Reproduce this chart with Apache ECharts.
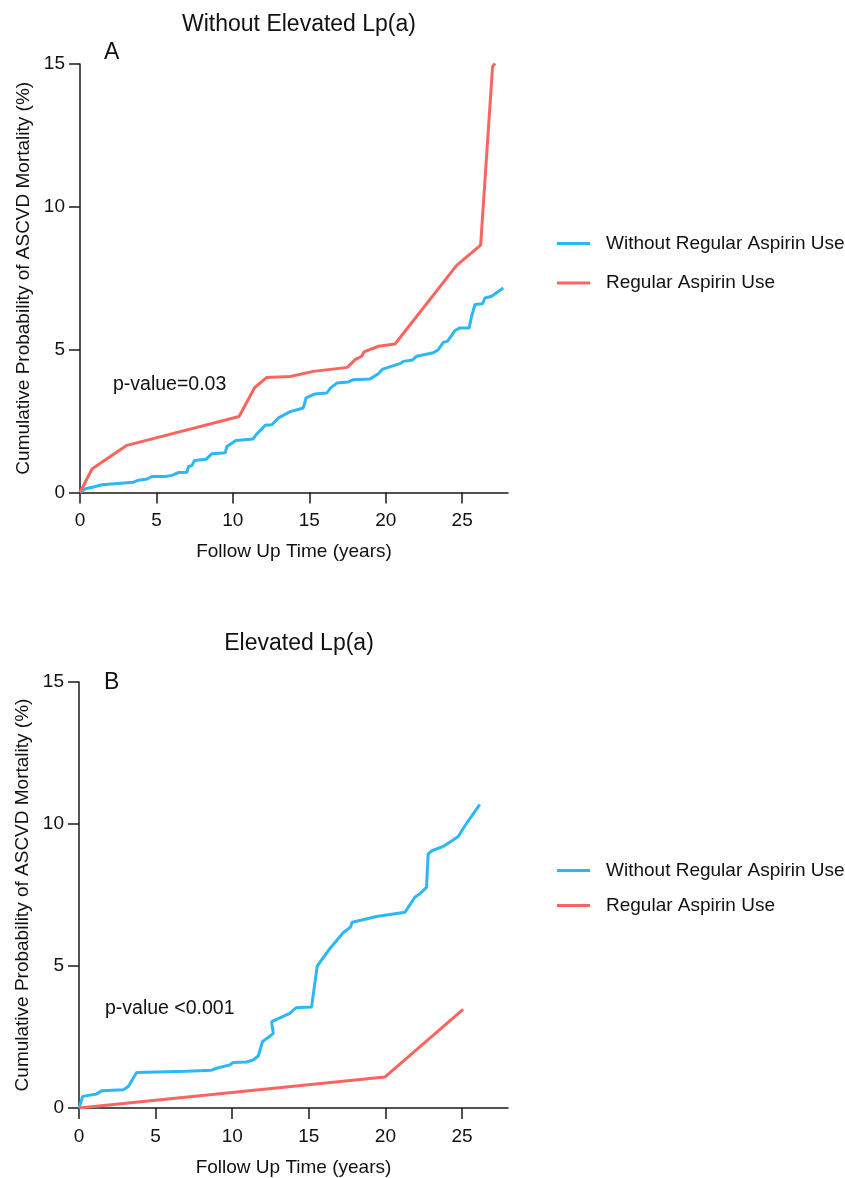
<!DOCTYPE html>
<html>
<head>
<meta charset="utf-8">
<script src="https://cdn.jsdelivr.net/npm/echarts@6/dist/echarts.min.js"></script>
<style>
  html, body { margin: 0; padding: 0; background: #fff; }
  #chart { width: 845px; height: 1178px; }
</style>
</head>
<body>
<div id="chart"></div>
<script>
// follow up time (years) / cumulative probability (%)
const noLpaNoAspirin = [
  [0, 0], [0.35, 0.13], [0.89, 0.19], [1.44, 0.27], [3.5, 0.36], [3.83, 0.43], [4.38, 0.47],
  [4.7, 0.56], [5.58, 0.56], [6.01, 0.6], [6.45, 0.7], [6.99, 0.71], [7.1, 0.91], [7.32, 0.94],
  [7.49, 1.12], [8.24, 1.16], [8.63, 1.36], [9.5, 1.39], [9.61, 1.61], [10.2, 1.82], [11.31, 1.87],
  [11.57, 2.05], [12.11, 2.35], [12.55, 2.37], [12.98, 2.61], [13.75, 2.83], [14.61, 2.96],
  [14.79, 3.31], [15.38, 3.45], [16.14, 3.48], [16.4, 3.66], [16.8, 3.83], [17.56, 3.87],
  [17.88, 3.95], [18.97, 3.97], [19.52, 4.16], [19.8, 4.32], [20.93, 4.51], [21.15, 4.59],
  [21.76, 4.64], [22.03, 4.77], [23.11, 4.89], [23.44, 5.0], [23.77, 5.26], [24.03, 5.29],
  [24.31, 5.49], [24.53, 5.67], [24.86, 5.76], [25.46, 5.76], [25.62, 6.17], [25.84, 6.58],
  [26.34, 6.61], [26.49, 6.81], [26.93, 6.87], [27.69, 7.16]
];
const noLpaAspirin = [
  [0, 0], [0.78, 0.82], [3.07, 1.65], [10.41, 2.66], [11.41, 3.66], [12.22, 4.03], [13.75, 4.06],
  [15.27, 4.24], [17.49, 4.38], [18.0, 4.65], [18.43, 4.77], [18.58, 4.92], [19.52, 5.12],
  [20.61, 5.2], [24.64, 7.95], [26.21, 8.66], [26.99, 14.91], [27.16, 15.02]
];
const lpaNoAspirin = [
  [0, 0], [0.24, 0.41], [1.15, 0.49], [1.48, 0.61], [2.89, 0.64], [3.22, 0.76], [3.76, 1.25],
  [7.02, 1.29], [7.13, 1.33], [8.66, 1.33], [8.98, 1.4], [9.85, 1.52], [10.07, 1.6], [10.94, 1.62],
  [11.37, 1.69], [11.7, 1.83], [11.98, 2.34], [12.35, 2.48], [12.68, 2.63], [12.57, 3.04],
  [13.76, 3.33], [14.16, 3.53], [15.18, 3.56], [15.55, 5.0], [16.37, 5.61], [17.24, 6.17],
  [17.72, 6.37], [17.83, 6.54], [19.42, 6.74], [21.27, 6.89], [21.92, 7.42], [22.24, 7.54],
  [22.68, 7.77], [22.79, 8.94], [23.0, 9.05], [23.77, 9.21], [24.74, 9.55], [25.18, 9.93],
  [26.16, 10.69]
];
const lpaAspirin = [[0, 0], [19.96, 1.09], [25.07, 3.47]];

const seriesNames = ["Without Regular Aspirin Use", "Regular Aspirin Use"];
const panelTitles = ["Without Elevated Lp(a)", "Elevated Lp(a)"];
const panelLetters = ["A", "B"];
const pValues = ["p-value=0.03", "p-value <0.001"];
const xTicks = [0, 5, 10, 15, 20, 25];
const yTicks = [0, 5, 10, 15];

const FONT = "Liberation Sans, Arial, Helvetica, sans-serif";
const BLUE = "#2bb7fa";
const RED = "#fa6560";
const AXIS = "#1a1a1a";
const TXT = "#111";

let myChart = echarts.init(document.getElementById("chart"));

function xAxisFor(i) {
  return {
    gridIndex: i,
    type: "value",
    min: 0,
    max: 28,
    interval: 5,
    name: "Follow Up Time (years)",
    nameLocation: "middle",
    nameGap: 50,
    nameTextStyle: { color: TXT, fontSize: 19, fontFamily: FONT },
    axisLine: { show: true, lineStyle: { color: AXIS, width: 1.5 } },
    axisTick: { show: true, length: 11, customValues: xTicks, lineStyle: { color: AXIS, width: 1.5 } },
    axisLabel: { color: TXT, fontSize: 19, fontFamily: FONT, margin: 19, customValues: xTicks },
    splitLine: { show: false }
  };
}

function yAxisFor(i) {
  return {
    gridIndex: i,
    type: "value",
    min: yTicks[0],
    max: yTicks[yTicks.length - 1],
    interval: 5,
    name: "Cumulative Probability of ASCVD Mortality (%)",
    nameLocation: "middle",
    nameGap: 44,
    nameTextStyle: { color: TXT, fontSize: 19, fontFamily: FONT },
    axisLine: { show: true, lineStyle: { color: AXIS, width: 1.5 } },
    axisTick: { show: true, length: 11, lineStyle: { color: AXIS, width: 1.5 } },
    axisLabel: { color: TXT, fontSize: 19, fontFamily: FONT, margin: 15, padding: [3, 0, 0, 0] },
    splitLine: { show: false }
  };
}

function lineSeries(name, data, color, i) {
  return {
    name: name,
    type: "line",
    xAxisIndex: i,
    yAxisIndex: i,
    data: data,
    symbol: "none",
    lineStyle: { color: color, width: 3 },
    itemStyle: { color: color },
    animation: false
  };
}

function label(text, left, top, size, align) {
  return {
    text: text, left: left, top: top, textAlign: align || "left",
    textStyle: { fontSize: size, fontWeight: "normal", color: TXT, fontFamily: FONT }
  };
}

let option = {
  backgroundColor: "#fff",
  title: [
    label(panelTitles[0], 294, 8, 23, "center"),
    label(panelTitles[1], 294, 627, 23, "center"),
    label(panelLetters[0], 99, 36, 23),
    label(panelLetters[1], 99, 666, 23),
    label(pValues[0], 108, 370, 19.5),
    label(pValues[1], 100, 994, 19.5)
  ],
  legend: [
    {
      left: 552, top: 229, orient: "vertical", itemGap: 20.6,
      icon: "rect", itemWidth: 33, itemHeight: 3,
      textStyle: { fontSize: 19, color: TXT, fontFamily: FONT, padding: [0, 0, 0, 11] },
      data: seriesNames, selectedMode: false
    },
    {
      left: 552, top: 856, orient: "vertical", itemGap: 16,
      icon: "rect", itemWidth: 33, itemHeight: 3,
      textStyle: { fontSize: 19, color: TXT, fontFamily: FONT, padding: [0, 0, 0, 11] },
      data: seriesNames, selectedMode: false
    }
  ],
  grid: [
    { left: 80, top: 64, width: 428, height: 428.5 },
    { left: 79, top: 682, width: 429, height: 428 }
  ],
  xAxis: [xAxisFor(0), xAxisFor(1)],
  yAxis: [yAxisFor(0), yAxisFor(1)],
  series: [
    lineSeries(seriesNames[0], noLpaNoAspirin, BLUE, 0),
    lineSeries(seriesNames[1], noLpaAspirin, RED, 0),
    lineSeries(seriesNames[0], lpaNoAspirin, BLUE, 1),
    lineSeries(seriesNames[1], lpaAspirin, RED, 1)
  ]
};

myChart.setOption(option);
window.addEventListener("resize", function() {
  myChart.resize();
});
</script>
</body>
</html>
